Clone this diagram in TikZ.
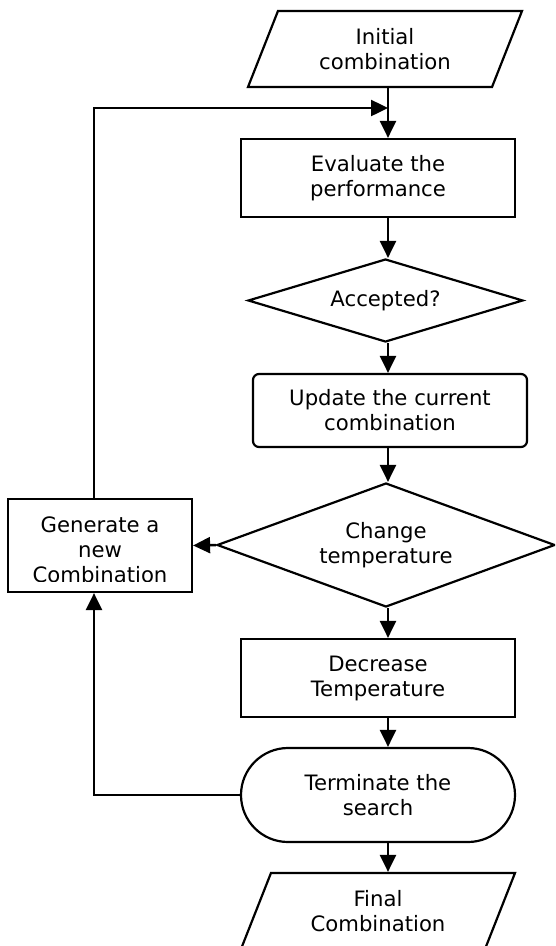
\documentclass[tikz,border=0pt]{standalone}
\usepackage{fontspec}
\setmainfont{DejaVu Sans}
\usetikzlibrary{shapes.geometric,arrows.meta}
\begin{document}
\begin{tikzpicture}[x=1pt,y=-1pt,
  every node/.style={font=\fontsize{21.2}{25}\selectfont, align=center, inner sep=0pt},
  box/.style={draw, line width=2.2pt, minimum width=274pt},
  dia/.style={draw, diamond, aspect=2, line width=2.2pt},
  para/.style={draw, trapezium, trapezium left angle=54.1, trapezium right angle=125.9,
    trapezium stretches body, line width=2.2pt, minimum width=274pt, minimum height=76pt},
  conn/.style={line width=2.5pt, -{Triangle[length=17pt,width=16pt]}}
]
\useasboundingbox (0,0) rectangle (555,946);
\clip (0,0) rectangle (555,946);

\node[para] (init) at (385,49) {Initial\\combination};
\node[box, minimum height=78pt] (eval) at (378,178) {Evaluate the\\performance};
\node[dia, minimum width=275pt, minimum height=83pt] (acc) at (385.5,300.5) {Accepted?};
\node[box, rounded corners=6pt, minimum height=73pt] (upd) at (390,410.5) {Update the current\\combination};
\node[dia, minimum width=338pt, minimum height=124pt] (chg) at (386,545) {Change\\temperature};
\node[box, minimum width=184pt, minimum height=93pt] (gen) at (100,545.5) {};
\begin{scope}
  \clip (gen.north west) rectangle ([yshift=12pt]gen.south east);
  \node (gentext) at (100,550) {Generate a\\new\\Combination};
\end{scope}
\node[box, minimum height=78pt] (dec) at (378,678) {Decrease\\Temperature};
\node[box, rounded corners=47pt, minimum height=94pt] (term) at (378,795) {Terminate the\\search};
\node[para] (fin) at (378,911) {Final\\Combination};

\coordinate (col) at (388,0);
\coordinate (lft) at (94,0);
\coordinate (join) at (388,108);

\draw[conn] (init.south -| col) -- (eval.north -| col);
\draw[conn] (eval.south -| col) -- (acc.north -| col);
\draw[conn] (acc.south -| col) -- (upd.north -| col);
\draw[conn] (upd.south -| col) -- (chg.north -| col);
\draw[conn] (chg.south -| col) -- (dec.north -| col);
\draw[conn] (dec.south -| col) -- (term.north -| col);
\draw[conn] (term.south -| col) -- (fin.north -| col);
\draw[conn] (chg.west) -- (gen.east);
\draw[conn] (term.west) -| (gen.south -| lft);
\draw[conn] (gen.north -| lft) |- (join);
\end{tikzpicture}
\end{document}
